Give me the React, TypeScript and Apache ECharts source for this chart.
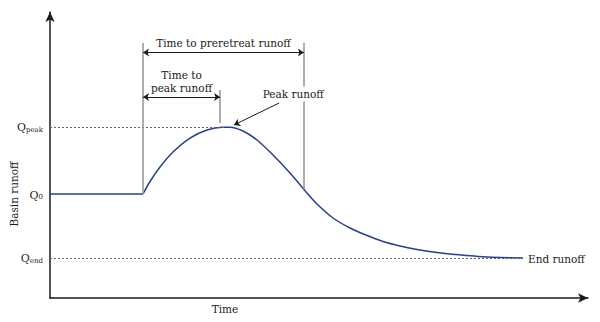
import React, { useEffect, useRef } from "react";
import * as echarts from "echarts";

// Hydrograph (time and runoff in arbitrary units, 0..100)
const baseTime = [0, 17.29];
const baseRunoff = [36.36, 36.36];
const curveTime = [17.29, 18.59, 20.45, 22.86, 26.02, 29.18, 31.97, 33.46, 35.87, 38.48, 41.45, 44.61, 47.77, 49.63, 52.6, 55.76, 58.92, 61.9, 65.06, 68.22, 71.19, 74.35, 77.51, 80.48, 83.64, 87.92];
const curveRunoff = [36.36, 40.73, 45.8, 51.05, 55.94, 58.74, 59.72, 59.72, 58.39, 55.24, 50.0, 43.71, 36.71, 32.87, 27.97, 24.48, 21.85, 19.76, 18.18, 16.96, 16.08, 15.38, 14.86, 14.41, 14.13, 13.99];

// Reference levels (y) and times (x)
const Q_END = 13.99;
const Q0 = 36.36;
const Q_PEAK = 59.8;
const T_START = 17.29;
const T_PEAK = 32.7;
const T_PEAK_MARK = 31.6;
const T_PRERETREAT = 47.2;
const T_END = 87.92;

// Annotation guide positions
const GUIDE_TOP = 89.2;
const PEAK_MARK_TOP = 72.7;
const PEAK_MARK_BOTTOM = 61.2;
const PRERETREAT_BOTTOM = 38.1;
const ARROW_PRERETREAT_Y = 85.8;
const ARROW_PEAK_Y = 70.3;
const PEAK_ARROW_FROM = [42.6, 68.2];
const PEAK_ARROW_TO = [34.2, 60.5];

const yLabelValues = [Q_END, Q0, Q_PEAK];

export default function App() {
  const ref = useRef<HTMLDivElement>(null);

  useEffect(() => {
    const chart = echarts.init(ref.current!, null, { renderer: "svg" });
    const font = "DejaVu Serif";
    const fs = 10.5;
    const ink = "#1a1a1a";
    const curveColor = "#25408f";
    const dotted = { color: "#666", width: 1, type: [2, 2] as any };
    const guide = { color: "#9a9a9a", width: 1.6, type: "solid" as any };
    const thin = { color: ink, width: 1, type: "solid" as any };

    const seg = (a: number[], b: number[], style: any, s1 = "none", s2 = "none") => [
      { coord: a, symbol: s1, lineStyle: style },
      { coord: b, symbol: s2, lineStyle: style },
    ];

    const axisLine = {
      show: true,
      symbol: ["none", "arrow"],
      symbolSize: [7, 10],
      lineStyle: { color: ink, width: 1.5 },
    };

    chart.setOption({
      animation: false,
      grid: { left: 50, top: 12, right: 12, bottom: 24 },
      xAxis: {
        type: "value",
        min: 0,
        max: 100,
        axisLine,
        axisTick: { show: false },
        axisLabel: { show: false },
        splitLine: { show: false },
      },
      yAxis: {
        type: "value",
        min: 0,
        max: 100,
        axisLine,
        axisTick: { show: false },
        splitLine: { show: false },
        axisLabel: {
          show: true,
          customValues: yLabelValues,
          margin: 7,
          color: ink,
          fontFamily: font,
          formatter: (v: number) => {
            if (Math.abs(v - Q_PEAK) < 0.01) return "{q|Q}{s|peak}";
            if (Math.abs(v - Q0) < 0.01) return "{q|Q}{s|0}";
            if (Math.abs(v - Q_END) < 0.01) return "{q|Q}{s|end}";
            return "";
          },
          rich: {
            q: { fontSize: 11, fontFamily: font, color: ink, verticalAlign: "bottom", lineHeight: 13 },
            s: { fontSize: 7, fontFamily: font, color: ink, verticalAlign: "bottom", lineHeight: 8 },
          },
        },
      },
      series: [
        {
          type: "line",
          data: baseTime.map((t, i) => [t, baseRunoff[i]]),
          symbol: "none",
          lineStyle: { color: curveColor, width: 1.5 },
          z: 3,
        },
        {
          type: "line",
          data: curveTime.map((t, i) => [t, curveRunoff[i]]),
          smooth: 0.3,
          symbol: "none",
          lineStyle: { color: curveColor, width: 1.5 },
          z: 3,
          markLine: {
            silent: true,
            symbolSize: 6,
            label: { show: false },
            data: [
              seg([0, Q_PEAK], [T_PEAK, Q_PEAK], dotted),
              seg([0, Q_END], [T_END, Q_END], dotted),
              seg([T_START, GUIDE_TOP], [T_START, Q0], guide),
              seg([T_PEAK_MARK, PEAK_MARK_TOP], [T_PEAK_MARK, PEAK_MARK_BOTTOM], guide),
              seg([T_PRERETREAT, GUIDE_TOP], [T_PRERETREAT, PRERETREAT_BOTTOM], guide),
              seg([T_START, ARROW_PRERETREAT_Y], [T_PRERETREAT, ARROW_PRERETREAT_Y], thin, "arrow", "arrow"),
              seg([T_START, ARROW_PEAK_Y], [T_PEAK_MARK, ARROW_PEAK_Y], thin, "arrow", "arrow"),
              seg(PEAK_ARROW_FROM, PEAK_ARROW_TO, thin, "none", "arrow"),
            ],
          },
        },
      ],
    });

    const px = (t: number, v: number) => chart.convertToPixel({ gridIndex: 0 }, [t, v]) as number[];
    const txt = (text: string, x: number, y: number, align: string, vAlign: string, extra: any = {}, bg?: string) => ({
      type: "text",
      x,
      y,
      silent: true,
      z: 100,
      ...extra,
      style: {
        text,
        fontSize: fs,
        fontFamily: font,
        fill: ink,
        align,
        verticalAlign: vAlign,
        lineHeight: 13,
        ...(bg ? { backgroundColor: bg, padding: [1, 2] } : {}),
      },
    });

    const a1 = px((T_START + T_PRERETREAT) / 2, ARROW_PRERETREAT_Y);
    const a2 = px((T_START + T_PEAK_MARK) / 2, ARROW_PEAK_Y);
    const pa = px(PEAK_ARROW_FROM[0], PEAK_ARROW_FROM[1]);
    const en = px(T_END, Q_END);
    const q0 = px(0, Q0);

    chart.setOption({
      graphic: [
        txt("Time to preretreat runoff", a1[0], a1[1] - 3, "center", "bottom"),
        txt("Time to\npeak runoff", a2[0], a2[1] - 2, "center", "bottom"),
        txt("Peak runoff", pa[0] + 14, pa[1] - 9, "center", "middle", {}, "#fff"),
        txt("End runoff", en[0] + 5, en[1] + 1, "left", "middle"),
        txt("Basin runoff", 14, q0[1], "center", "middle", { rotation: Math.PI / 2 }),
        txt("Time", 225, 309, "center", "middle"),
      ],
    });

    return () => chart.dispose();
  }, []);

  return (
    <div
      ref={ref}
      style={{ position: "fixed", left: 0, top: 0, width: 600, height: 322, background: "#fff" }}
    />
  );
}
